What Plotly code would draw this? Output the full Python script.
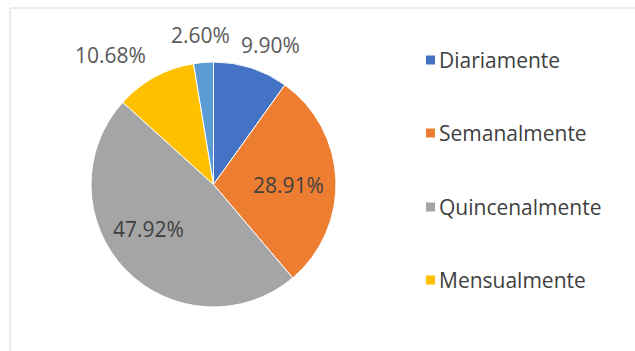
import plotly.graph_objects as go

# Frequency categories and their shares (%)
categories = ["Diariamente", "Semanalmente", "Quincenalmente", "Mensualmente", "Otros"]
shares = [9.90, 28.91, 47.92, 10.68, 2.60]
colors = ["#4472C4", "#ED7D31", "#A5A5A5", "#FFC000", "#5B9BD5"]
legend_items = categories[:4]

W, H = 635, 351
FONT = "Open Sans"

labels_txt = [f"{v:.2f}%" for v in shares]

fig = go.Figure()
fig.add_trace(go.Pie(
    labels=categories,
    values=shares,
    sort=False,
    direction="clockwise",
    rotation=0,
    marker=dict(colors=colors, line=dict(color="white", width=1)),
    textinfo="none",
    showlegend=False,
    hoverinfo="label+percent",
    domain=dict(x=[91 / W, 336 / W], y=[1 - 307 / H, 1 - 62 / H]),
))

# Data labels: pixel anchor of each label centre and its text colour
label_anchor = {
    "Diariamente": ((270, 45), "#595959"),
    "Semanalmente": ((288, 185), "#404040"),
    "Quincenalmente": ((148, 229), "#404040"),
    "Mensualmente": ((110, 55), "#595959"),
    "Otros": ((200, 35), "#595959"),
}
for name, txt in zip(categories, labels_txt):
    (px, py), tc = label_anchor[name]
    fig.add_annotation(
        xref="paper", yref="paper", x=px / W, y=1 - py / H,
        xanchor="center", yanchor="middle", showarrow=False,
        text=txt, font=dict(family=FONT, size=21, color=tc),
    )

# Chart area frame
fig.add_shape(type="rect", xref="paper", yref="paper",
              x0=10 / W, x1=1.2, y0=-0.2, y1=1 - 8 / H,
              line=dict(color="#D9D9D9", width=1), fillcolor="rgba(0,0,0,0)")

# Legend: colored square markers with text entries
legend_y = [60, 133, 207, 280]
for name, col, yy in zip(legend_items, colors, legend_y):
    fig.add_shape(type="rect", xref="paper", yref="paper",
                  x0=426 / W, x1=435 / W, y0=1 - (yy + 4.5) / H, y1=1 - (yy - 4.5) / H,
                  line=dict(width=0), fillcolor=col)
    fig.add_annotation(
        xref="paper", yref="paper", x=437 / W, y=1 - yy / H,
        xanchor="left", yanchor="middle", showarrow=False,
        text=name, font=dict(family=FONT, size=21, color="#404040"),
    )

fig.update_layout(
    width=W, height=H,
    margin=dict(l=0, r=0, t=0, b=0),
    paper_bgcolor="white",
    plot_bgcolor="white",
)

fig.write_html("out.html")
